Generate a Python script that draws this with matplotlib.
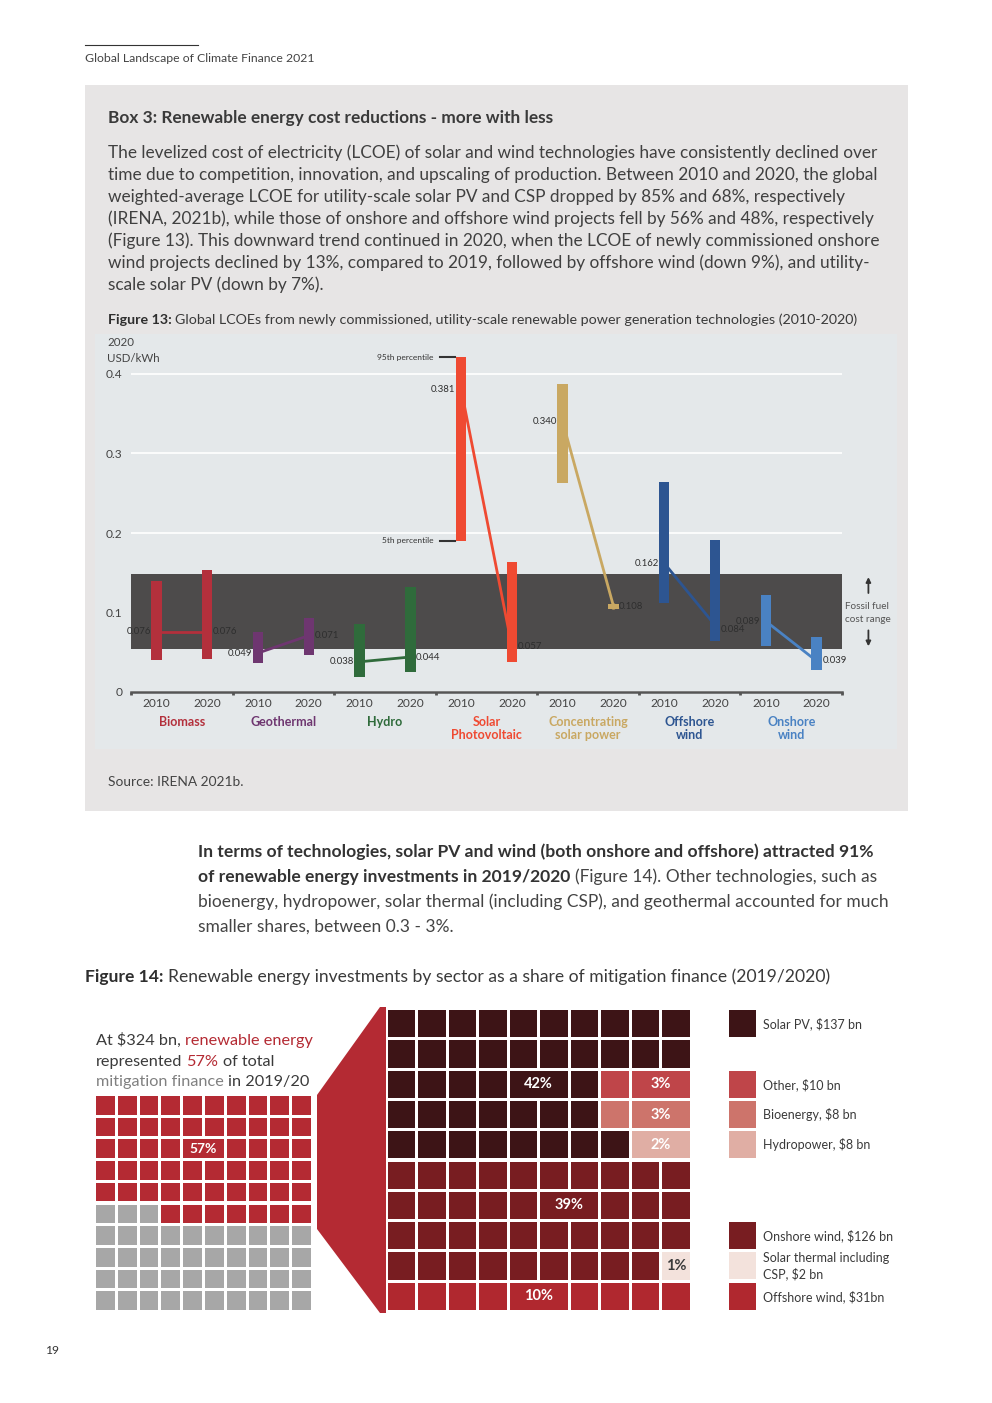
import matplotlib
matplotlib.use("Agg")
import matplotlib.pyplot as plt
from matplotlib.patches import Rectangle, Polygon
from matplotlib.lines import Line2D
import numpy as np

W, H = 992, 1403
FONT = "Lato"
TXT = "#3a3a3a"
RED = "#b42a33"

# ---- Figure 13: global LCOE by technology, 2010 vs 2020 (2020 USD/kWh)
techs = ["Biomass", "Geothermal", "Hydro", "Solar\nPhotovoltaic",
         "Concentrating\nsolar power", "Offshore\nwind", "Onshore\nwind"]
tech_colors = ["#b3303c", "#6e3670", "#2f6b3b", "#ef4a32", "#c9a862", "#2d5591", "#4a82c3"]
years = ["2010", "2020"]
lcoe_2010 = [0.076, 0.049, 0.038, 0.381, 0.340, 0.162, 0.089]
lcoe_2020 = [0.076, 0.071, 0.044, 0.057, 0.108, 0.084, 0.039]
p5_2010 = [0.040, 0.037, 0.019, 0.190, 0.263, 0.112, 0.058]
p95_2010 = [0.140, 0.075, 0.086, 0.421, 0.387, 0.264, 0.122]
p5_2020 = [0.042, 0.047, 0.025, 0.038, 0.105, 0.064, 0.028]
p95_2020 = [0.153, 0.093, 0.132, 0.164, 0.111, 0.191, 0.069]
fossil_range = [0.054, 0.148]
y_ticks = [0, 0.1, 0.2, 0.3, 0.4]
y_labels = ["0", "0.1", "0.2", "0.3", "0.4"]

# ---- Figure 14: renewable energy share of mitigation finance (waffles)
left_rows = ["RRRRRRRRRR"] * 5 + ["GGGRRRRRRR"] + ["GGGGGGGGGG"] * 4
left_colors = {"R": "#b42a33", "G": "#a7a7a7"}

sector_codes = ["S", "O", "B", "H", "N", "T", "F"]
sector_names = ["Solar PV", "Other", "Bioenergy", "Hydropower", "Onshore wind",
                "Solar thermal including\nCSP", "Offshore wind"]
sector_amounts = ["$137 bn", "$10 bn", "$8 bn", "$8 bn", "$126 bn", "$2 bn", "$31bn"]
sector_colors = ["#3d1416", "#bf4549", "#cd746b", "#e0aea4", "#781d21", "#f3e2dc", "#b0282f"]
right_rows = [
    "SSSSSSSSSS",
    "SSSSSSSSSS",
    "SSSSSSSOOO",
    "SSSSSSSBBB",
    "SSSSSSSSHH",
    "NNNNNNNNNN",
    "NNNNNNNNNN",
    "NNNNNNNNNN",
    "NNNNNNNNNT",
    "FFFFFFFFFF",
]
share_labels = ["42%", "3%", "3%", "2%", "39%", "1%", "10%"]

fig = plt.figure(figsize=(W / 100, H / 100), dpi=100)
fig.patch.set_facecolor("white")
renderer = fig.canvas.get_renderer()


def fy(y):
    return 1 - y / H


def put(x, y, s, size, color=TXT, weight="normal", ha="left", **kw):
    return fig.text(x / W, fy(y), s, fontsize=size * 0.72, color=color, weight=weight,
                    ha=ha, va="baseline", family=FONT, **kw)


def text_w(s, size, weight="normal"):
    t = put(0, 0, s, size, weight=weight)
    w = t.get_window_extent(renderer).width
    t.remove()
    return w


def fit(s, width, weight="normal"):
    return 20 * width / text_w(s, 20, weight)


def runs(x, y, parts):
    # parts: (text, size, color, weight); a leading space becomes a gap
    for s, size, color, weight in parts:
        if s.startswith(" "):
            x += text_w("a a", size, weight) - text_w("aa", size, weight)
            s = s[1:]
        t = put(x, y, s, size, color, weight)
        x += t.get_window_extent(renderer).width


def rect_px(x0, y0, x1, y1, color, z):
    fig.patches.append(Rectangle((x0 / W, fy(y1)), (x1 - x0) / W, (y1 - y0) / H,
                                 transform=fig.transFigure, color=color, lw=0, zorder=z))


# ---- page header
fig.add_artist(Line2D([85 / W, 198 / W], [fy(45), fy(45)], lw=0.8, color="#333333"))
header = "Global Landscape of Climate Finance 2021"
put(85, 62, header, fit(header, 231), color="#444444")

# ---- Box 3
rect_px(85, 85, 908, 811, "#e7e5e5", -3)
rect_px(95, 334, 897, 749, "#e4e8ea", -2)

title = "Box 3: Renewable energy cost reductions - more with less"
put(108, 123, title, fit(title, 445, "bold"), weight="bold")

box_lines = [
    "The levelized cost of electricity (LCOE) of solar and wind technologies have consistently declined over",
    "time due to competition, innovation, and upscaling of production. Between 2010 and 2020, the global",
    "weighted-average LCOE for utility-scale solar PV and CSP dropped by 85% and 68%, respectively",
    "(IRENA, 2021b), while those of onshore and offshore wind projects fell by 56% and 48%, respectively",
    "(Figure 13). This downward trend continued in 2020, when the LCOE of newly commissioned onshore",
    "wind projects declined by 13%, compared to 2019, followed by offshore wind (down 9%), and utility-",
    "scale solar PV (down by 7%).",
]
bsz = fit(box_lines[0], 773)
for k, line in enumerate(box_lines):
    put(108, 158 + 22 * k, line, bsz, color="#404040")

cap13 = " Global LCOEs from newly commissioned, utility-scale renewable power generation technologies (2010-2020)"
csz = fit(cap13.strip(), 682)
runs(108, 324, [("Figure 13:", csz, "#2e2e2e", "bold"), (cap13, csz, "#3a3a3a", "normal")])

put(107, 346, "2020", 11.5, color="#444444")
put(107, 361.5, "USD/kWh", 11.5, color="#444444")
put(108, 786, "Source: IRENA 2021b.", fit("Source: IRENA 2021b.", 136), color="#444444")

# ---- Figure 13 chart
ax = fig.add_axes([131 / W, fy(692), 711 / W, 0.445 * 795 / H])
ax.set_facecolor("none")
ax.set_xlim(0, 7)
ax.set_ylim(0, 0.445)
x = np.arange(len(techs))
x10 = x + 0.25
x20 = x + 0.75
bw = 0.103
dy20 = [0, 0, 0, 0, 0, -0.006, 0]  # nudge the offshore 2020 label clear of onshore 2010

ax.axhspan(fossil_range[0], fossil_range[1], color="#4d4b4b", lw=0, zorder=1)
ax.bar(x10, np.subtract(p95_2010, p5_2010), bottom=p5_2010, width=bw, color=tech_colors, zorder=3)
ax.bar(x20, np.subtract(p95_2020, p5_2020), bottom=p5_2020, width=bw, color=tech_colors, zorder=3)
for i in range(len(techs)):
    ax.plot([x10[i], x20[i]], [lcoe_2010[i], lcoe_2020[i]], color=tech_colors[i], lw=2,
            marker="o", ms=3.5, zorder=4)
    ax.text(x10[i] - bw / 2 - 0.005, lcoe_2010[i], f"{lcoe_2010[i]:.3f}", ha="right", va="center",
            fontsize=6.9, color="#2e2e2e", family=FONT, zorder=5)
    ax.text(x20[i] + bw / 2 + 0.005, lcoe_2020[i] + dy20[i], f"{lcoe_2020[i]:.3f}", ha="left",
            va="center", fontsize=6.9, color="#2e2e2e", family=FONT, zorder=5)
    ax.text(x[i] + 0.5, -0.030, techs[i], ha="center", va="top", fontsize=9, weight="bold",
            color=tech_colors[i], family=FONT, linespacing=1.1)

ax.set_yticks(y_ticks, y_labels, family=FONT)
ax.set_xticks(np.arange(len(techs) + 1), [""] * (len(techs) + 1))
ax.set_xticks(np.concatenate([x10, x20]), years[:1] * len(techs) + years[1:] * len(techs),
              minor=True, family=FONT)
ax.tick_params(axis="y", length=0, pad=6, labelsize=8.6, labelcolor="#444444")
ax.tick_params(axis="x", which="major", direction="out", length=2.5, width=2, color="#555555")
ax.tick_params(axis="x", which="minor", length=0, pad=4, labelsize=8.6, labelcolor="#444444")
ax.grid(axis="y", color="white", lw=1.2)
ax.set_axisbelow(True)
for side in ["top", "right", "left"]:
    ax.spines[side].set_visible(False)
ax.spines["bottom"].set_color("#555555")
ax.spines["bottom"].set_linewidth(1.8)

# percentile callouts on the solar PV 2010 bar
for val, lab in [(p95_2010[3], "95th percentile"), (p5_2010[3], "5th percentile")]:
    ax.plot([x10[3] - 0.21, x10[3] - 0.06], [val, val], color="#333333", lw=1.5, clip_on=False)
    ax.text(x10[3] - 0.27, val, lab, ha="right", va="center", fontsize=6, color="#333333", family=FONT)

# fossil fuel range marker
ax.annotate("", xy=(7.26, fossil_range[1]), xytext=(7.26, 0.121), annotation_clip=False,
            arrowprops=dict(arrowstyle="-|>", color="#333333", lw=1.3, mutation_scale=7))
ax.annotate("", xy=(7.26, fossil_range[0]), xytext=(7.26, 0.081), annotation_clip=False,
            arrowprops=dict(arrowstyle="-|>", color="#333333", lw=1.3, mutation_scale=7))
ax.text(7.03, 0.0994, "Fossil fuel\ncost range", ha="left", va="center", fontsize=7.2,
        color="#555555", family=FONT, linespacing=1.6)

# ---- text between figures
p1 = "In terms of technologies, solar PV and wind (both onshore and offshore) attracted 91%"
p3 = "bioenergy, hydropower, solar thermal (including CSP), and geothermal accounted for much"
pb = fit(p1, 672, "bold")
pn = fit(p3, 689)
put(198, 857, p1, pb, color="#333333", weight="bold")
runs(198, 882, [("of renewable energy investments in 2019/2020", pb, "#333333", "bold"),
                (" (Figure 14). Other technologies, such as", pn, "#444444", "normal")])
put(198, 907, p3, pn, color="#444444")
put(198, 932, "smaller shares, between 0.3 - 3%.", pn, color="#444444")

cap14 = " Renewable energy investments by sector as a share of mitigation finance (2019/2020)"
c14 = fit(cap14.strip(), 659)
runs(85, 982, [("Figure 14:", c14, "#2e2e2e", "bold"), (cap14, c14, "#3a3a3a", "normal")])

wsz = fit("At $324 bn, renewable energy", 217)
runs(96, 1045, [("At $324 bn,", wsz, TXT, "normal"), (" renewable energy", wsz, RED, "normal")])
runs(96, 1066, [("represented", wsz, TXT, "normal"), (" 57%", wsz, RED, "normal"),
                (" of total", wsz, TXT, "normal")])
runs(96, 1086, [("mitigation finance", wsz, "#808080", "normal"), (" in 2019/20", wsz, TXT, "normal")])


# ---- waffles
def waffle(a, rows, colors, frac):
    for r, row in enumerate(rows):
        for c, code in enumerate(row):
            a.add_patch(Rectangle((c, r), frac, frac, color=colors[code], lw=0))


def waffle_label(a, rows, colors, r, c, span, text, frac, tcolor, size):
    a.add_patch(Rectangle((c, r), span - 1 + frac, frac, color=colors[rows[r][c]], lw=0))
    a.text(c + (span - 1 + frac) / 2, r + frac / 2, text, ha="center", va="center",
           fontsize=size, color=tcolor, weight="bold", family=FONT)


axL = fig.add_axes([96 / W, fy(1313), 218 / W, 217 / H])
axL.set_xlim(0, 10)
axL.set_ylim(10, 0)
axL.axis("off")
waffle(axL, left_rows, left_colors, 0.86)
waffle_label(axL, left_rows, left_colors, 2, 4, 2, "57%", 0.86, "white", 10)

axR = fig.add_axes([387.7 / W, fy(1313), 518.5 / W, 303 / H])
axR.set_xlim(0, 17)
axR.set_ylim(10, 0)
axR.axis("off")
code_color = dict(zip(sector_codes, sector_colors))
waffle(axR, right_rows, code_color, 0.9)
label_cells = [(2, 4, 2), (2, 8, 2), (3, 8, 2), (4, 8, 2), (6, 5, 2), (8, 9, 1), (9, 4, 2)]
for (r, c, span), lab in zip(label_cells, share_labels):
    tcol = "#3a3a3a" if lab == "1%" else "white"
    waffle_label(axR, right_rows, code_color, r, c, span, lab, 0.9, tcol, 10.5)

legend_rows = [0, 2, 3, 4, 7, 8, 9]
lsz = fit("Onshore wind, $126 bn", 130)
for r, name, amt, col in zip(legend_rows, sector_names, sector_amounts, sector_colors):
    axR.add_patch(Rectangle((11.19, r), 0.88, 0.89, color=col, lw=0))
    axR.text(12.3, r + 0.45, f"{name}, {amt}", ha="left", va="center", fontsize=lsz * 0.72,
             color=TXT, family=FONT, linespacing=1.25)

# connector between the two waffles
conn = [(317, 1095), (380, 1007), (386, 1007), (386, 1313), (380, 1313), (317, 1229)]
fig.patches.append(Polygon([(px / W, fy(py)) for px, py in conn], closed=True,
                           transform=fig.transFigure, color=RED, lw=0))

put(46, 1354, "19", 12, color="#333333")

fig.savefig("out.png", dpi=100)
